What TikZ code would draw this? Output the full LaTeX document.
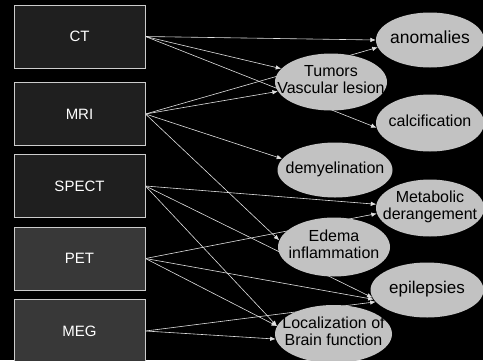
\documentclass[tikz,border=0pt]{standalone}
\usepackage{fontspec}
\setmainfont{Liberation Sans}
\usetikzlibrary{shapes.geometric,arrows.meta,positioning}
\pgfdeclarelayer{bg}
\pgfdeclarelayer{lines}
\pgfsetlayers{bg,lines,main}
% keeps the ellipse from growing round its text
\newcommand{\etxt}[1]{\makebox[0pt]{\begin{tabular}{@{}c@{}}#1\end{tabular}}}

\begin{document}
\begin{tikzpicture}[x=1pt,y=-1pt,
    box/.style={draw=white!80!black, line width=1pt, fill=black!88, text=white,
        minimum width=131, minimum height=63, inner sep=0, font=\fontsize{15}{17}\selectfont},
    blob/.style={ellipse, fill=black!24, inner sep=0, text=black,
        font=\fontsize{16}{17}\selectfont},
    link/.style={draw=white!88!black, line width=0.6pt, -{Latex[length=5.5pt,width=4.5pt]}}]
    \useasboundingbox (0,0) rectangle (483,360);
    \begin{pgfonlayer}{bg}
        \fill[black] (0,0) rectangle (483,360);
    \end{pgfonlayer}

    % Imaging methods
    \node[box] (ct) at (79.5,36.5) {CT};
    \node[box] (mri) at (79.5,114) {MRI};
    \node[box] (spect) at (79.5,186) {SPECT};
    \node[box,fill=black!78] (pet) at (79.5,258.5) {PET};
    \node[box,fill=black!78] (meg) at (79.5,331) {MEG};

    % Findings
    \node[blob,minimum width=108,minimum height=55,font=\fontsize{17.5}{18}\selectfont] (anom) at (430,40) {\etxt{anomalies}};
    \node[blob,minimum width=112,minimum height=57] (tumor) at (331,82) {\etxt{Tumors\\Vascular lesion}};
    \node[blob,minimum width=108,minimum height=57] (calc) at (430,123) {\etxt{calcification}};
    \node[blob,minimum width=115,minimum height=55] (demy) at (335,170) {\etxt{demyelination}};
    \node[blob,minimum width=108,minimum height=57] (metab) at (430,208) {\etxt{Metabolic\\derangement}};
    \node[blob,minimum width=112,minimum height=59] (edema) at (334,247) {\etxt{Edema\\inflammation}};
    \node[blob,minimum width=113,minimum height=55,font=\fontsize{17}{18}\selectfont] (epil) at (427,290) {\etxt{epilepsies}};
    \node[blob,minimum width=117,minimum height=58] (local) at (333.5,334) {\etxt{Localization of\\Brain function}};

    % Connections (behind the ellipses)
    \begin{pgfonlayer}{lines}
        \draw[link] (ct.east) -- (anom.west);
        \draw[link] (ct.east) -- (tumor.165);
        \draw[link] (ct.east) -- (calc.185);
        \draw[link] (mri.east) -- (anom.188);
        \draw[link] (mri.east) -- (tumor.190);
        \draw[link] (mri.east) -- (demy.168);
        \draw[link] (mri.east) -- (edema.173);
        \draw[link] (spect.east) -- (metab.176);
        \draw[link] (spect.east) -- (epil.188);
        \draw[link] (spect.east) -- (local.172);
        \draw[link] (pet.east) -- (metab.186);
        \draw[link] (pet.east) -- (epil.190);
        \draw[link] (pet.east) -- (local.172);
        \draw[link] (meg.east) -- (epil.193);
        \draw[link] (meg.east) -- (local.185);
    \end{pgfonlayer}
\end{tikzpicture}
\end{document}
